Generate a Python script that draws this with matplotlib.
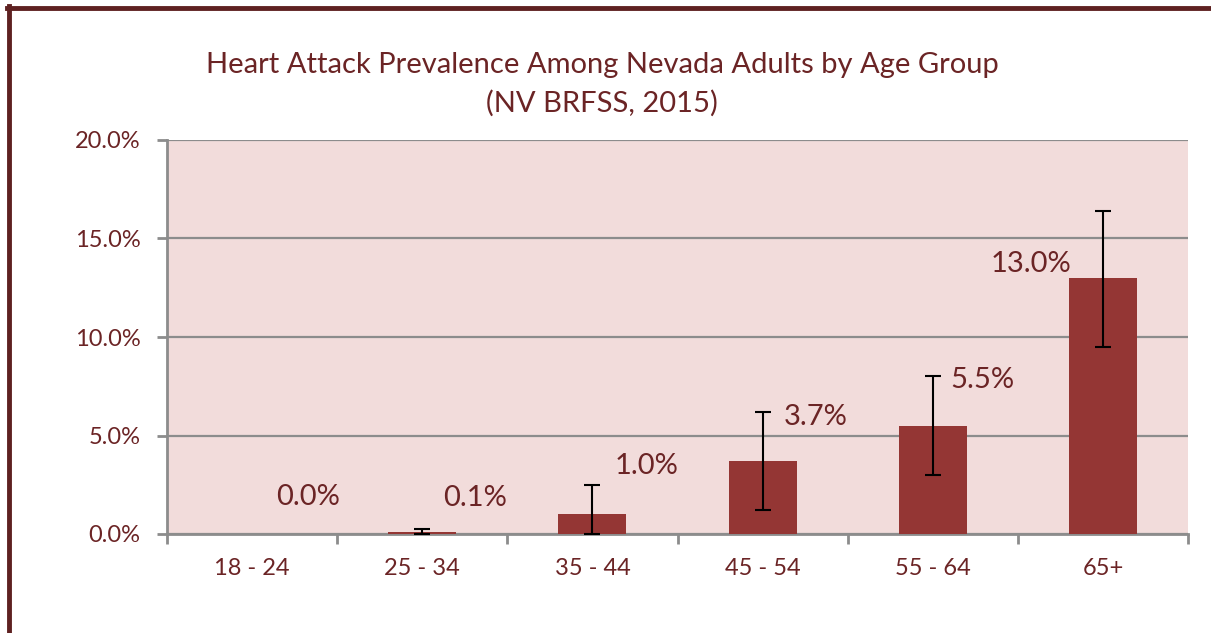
import matplotlib.pyplot as plt
from matplotlib.lines import Line2D
import numpy as np

age_groups = ["18 - 24", "25 - 34", "35 - 44", "45 - 54", "55 - 64", "65+"]
prevalence = [0.0, 0.1, 1.0, 3.7, 5.5, 13.0]
ci_low = [0.0, 0.0, 0.0, 1.2, 3.0, 9.5]
ci_high = [0.0, 0.25, 2.5, 6.2, 8.0, 16.4]
value_labels = ["0.0%", "0.1%", "1.0%", "3.7%", "5.5%", "13.0%"]

# label placement (category units / percent units)
label_dx = [0.33, 0.31, 0.32, 0.31, 0.29, -0.42]
label_dy = [1.9, 1.73, 2.45, 2.24, 2.3, 0.7]

text_color = "#6B2425"
bar_color = "#943634"
plot_bg = "#F2DCDB"
grid_color = "#8C8C8C"

plt.rcParams["font.family"] = ["Lato", "DejaVu Sans"]

fig = plt.figure(figsize=(12.11, 6.33), dpi=100)
ax = fig.add_axes([167 / 1211, 1 - 534 / 633, (1188 - 167) / 1211, (534 - 140) / 633])
ax.set_facecolor(plot_bg)

x = np.arange(len(age_groups))
vals = np.array(prevalence)
yerr = [vals - np.array(ci_low), np.array(ci_high) - vals]
ax.bar(x, vals, width=0.4, color=bar_color, zorder=3)
mask = vals > 0
ax.errorbar(x[mask], vals[mask], yerr=[yerr[0][mask], yerr[1][mask]], fmt="none",
            ecolor="black", elinewidth=1.5, capsize=6, capthick=1.5, zorder=4)

for i, lab in enumerate(value_labels):
    ax.text(x[i] + label_dx[i], vals[i] + label_dy[i], lab, ha="center", va="center",
            fontsize=21, color=text_color, zorder=5)

ax.set_xlim(-0.5, len(age_groups) - 0.5)
ax.set_ylim(0, 20)
ax.set_yticks([0, 5, 10, 15, 20])
ax.set_yticklabels([f"{t:.1f}%" for t in [0, 5, 10, 15, 20]])
ax.set_xticks(x)
ax.set_xticklabels(age_groups)
ax.set_xticks(np.arange(-0.5, len(age_groups)), minor=True)
ax.tick_params(axis="x", which="major", length=0, pad=17, labelsize=17, labelcolor=text_color)
ax.tick_params(axis="x", which="minor", length=7, width=2, color=grid_color)
ax.tick_params(axis="y", length=7, width=2, color=grid_color, pad=12, labelsize=17,
               labelcolor=text_color)

ax.yaxis.grid(True, color=grid_color, linewidth=1.6, zorder=1)
ax.set_axisbelow(True)
for side in ["top", "right"]:
    ax.spines[side].set_visible(False)
for side in ["left", "bottom"]:
    ax.spines[side].set_color(grid_color)
    ax.spines[side].set_linewidth(2)

fig.text(602 / 1211, 1 - 65 / 633, "Heart Attack Prevalence Among Nevada Adults by Age Group",
         ha="center", va="center", fontsize=21, color=text_color)
fig.text(602 / 1211, 1 - 103 / 633, "(NV BRFSS, 2015)",
         ha="center", va="center", fontsize=21, color=text_color)

# page frame
frame = "#5E2121"
fig.add_artist(Line2D([7 / 1211, 1], [1 - 7.5 / 633, 1 - 7.5 / 633], color=frame, linewidth=3.5,
                      transform=fig.transFigure))
fig.add_artist(Line2D([9 / 1211, 9 / 1211], [0, 1 - 6 / 633], color=frame, linewidth=3.5,
                      transform=fig.transFigure))

fig.savefig("out.png", dpi=100)
